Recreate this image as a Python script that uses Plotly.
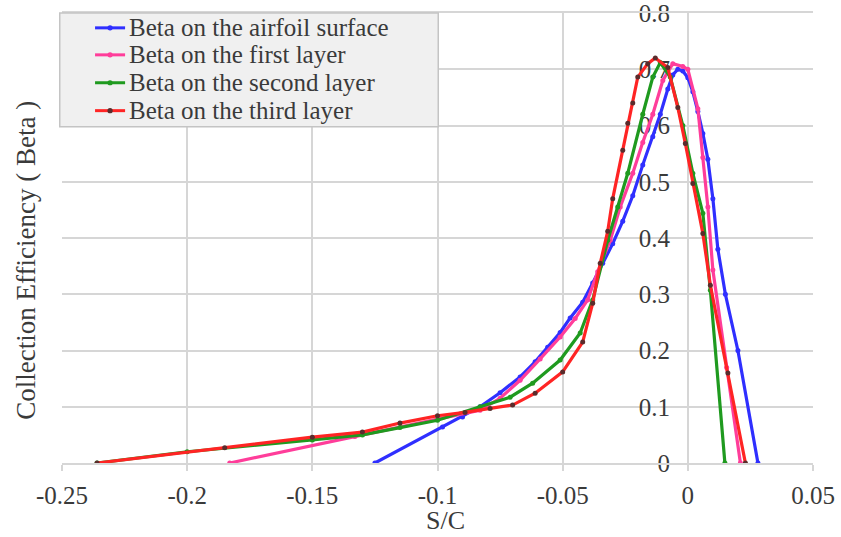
import plotly.graph_objects as go

# ---- data ----
blue_x = [-0.125, -0.098, -0.090, -0.083, -0.075, -0.067, -0.061, -0.056, -0.051, -0.047, -0.042,
          -0.038, -0.034, -0.030, -0.026, -0.022, -0.018, -0.014, -0.011, -0.008, -0.006, -0.004,
          -0.002, 0.000, 0.002, 0.004, 0.006, 0.008, 0.010, 0.012, 0.015, 0.020, 0.028]
blue_y = [0.000, 0.064, 0.082, 0.100, 0.125, 0.153, 0.180, 0.206, 0.232, 0.258, 0.286,
          0.320, 0.355, 0.390, 0.430, 0.475, 0.530, 0.580, 0.620, 0.665, 0.690, 0.700,
          0.697, 0.685, 0.660, 0.625, 0.586, 0.540, 0.470, 0.380, 0.300, 0.200, 0.000]

pink_x = [-0.183, -0.133, -0.083, -0.075, -0.067, -0.059, -0.051, -0.045, -0.040, -0.036, -0.031,
          -0.027, -0.022, -0.018, -0.014, -0.010, -0.006, -0.002, 0.000, 0.004, 0.006, 0.008,
          0.010, 0.0155, 0.021]
pink_y = [0.000, 0.047, 0.094, 0.115, 0.147, 0.185, 0.224, 0.257, 0.290, 0.340, 0.396,
          0.455, 0.515, 0.570, 0.620, 0.680, 0.710, 0.705, 0.700, 0.630, 0.543, 0.455,
          0.343, 0.170, 0.000]

green_x = [-0.236, -0.200, -0.150, -0.130, -0.115, -0.100, -0.083, -0.071, -0.062, -0.051, -0.043,
           -0.038, -0.032, -0.028, -0.024, -0.018, -0.014, -0.011, -0.007, -0.002, 0.002, 0.006,
           0.009, 0.0148]
green_y = [0.000, 0.020, 0.041, 0.050, 0.063, 0.076, 0.100, 0.117, 0.142, 0.183, 0.231,
           0.290, 0.396, 0.455, 0.515, 0.620, 0.686, 0.712, 0.686, 0.600, 0.515, 0.444,
           0.307, 0.000]

red_x = [-0.236, -0.185, -0.150, -0.130, -0.115, -0.100, -0.089, -0.079, -0.070, -0.061, -0.050,
         -0.042, -0.038, -0.035, -0.032, -0.030, -0.026, -0.024, -0.022, -0.020, -0.016, -0.013,
         -0.008, -0.004, -0.001, 0.002, 0.006, 0.009, 0.016, 0.023]
red_y = [0.000, 0.027, 0.046, 0.055, 0.071, 0.084, 0.090, 0.097, 0.103, 0.124, 0.162,
         0.215, 0.284, 0.355, 0.412, 0.470, 0.556, 0.604, 0.640, 0.686, 0.710, 0.720,
         0.703, 0.632, 0.568, 0.497, 0.408, 0.316, 0.160, 0.000]

series_names = ["Beta on the airfoil surface", "Beta on the first layer",
                "Beta on the second layer", "Beta on the third layer"]

x_tickvals = [-0.25, -0.2, -0.15, -0.1, -0.05, 0, 0.05]
x_ticktext = ["-0.25", "-0.2", "-0.15", "-0.1", "-0.05", "0", "0.05"]
y_tickvals = [0, 0.1, 0.2, 0.3, 0.4, 0.5, 0.6, 0.7, 0.8]
y_ticktext = ["0", "0.1", "0.2", "0.3", "0.4", "0.5", "0.6", "0.7", "0.8"]

FONT = "Liberation Serif"
TXT = "#3a3a3a"
GRID = "#d6d6d6"

line_colors = ["#2f2fff", "#ff3d9a", "#1f9a1f", "#ff2424"]
marker_colors = ["#2f2fff", "#ff3d9a", "#1f9a1f", "#5a2c2c"]
series = [(blue_x, blue_y), (pink_x, pink_y), (green_x, green_y), (red_x, red_y)]

fig = go.Figure()
for (xs, ys), name, lc, mc in zip(series, series_names, line_colors, marker_colors):
    fig.add_trace(go.Scatter(
        x=xs, y=ys, name=name, mode="lines+markers", showlegend=False,
        line=dict(color=lc, width=3.2),
        marker=dict(color=mc, size=5, line=dict(width=0)),
    ))

# ---- legend box drawn in paper coordinates (matches the boxed legend of the original) ----
shapes = [dict(type="rect", xref="paper", yref="paper", x0=-0.003, x1=0.501, y0=0.747, y1=1.0,
               fillcolor="#f0f0f0", line=dict(color="#c4c4c4", width=1.5), layer="above")]
annotations = []
row_y = [0.967, 0.907, 0.845, 0.783]
kx0, kx1, kxm, tx = 0.044, 0.084, 0.064, 0.087
for name, lc, mc, ry in zip(series_names, line_colors, marker_colors, row_y):
    shapes.append(dict(type="line", xref="paper", yref="paper", x0=kx0, x1=kx1, y0=ry, y1=ry,
                       line=dict(color=lc, width=3), layer="above"))
    shapes.append(dict(type="circle", xref="paper", yref="paper",
                       x0=kxm - 0.0035, x1=kxm + 0.0035, y0=ry - 0.0058, y1=ry + 0.0058,
                       fillcolor=mc, line=dict(width=0), layer="above"))
    annotations.append(dict(text=name, xref="paper", yref="paper", x=tx, y=ry,
                            xanchor="left", yanchor="middle", showarrow=False,
                            font=dict(family=FONT, size=25, color=TXT)))

annotations += [
    dict(text="Collection Efficiency ( Beta )", xref="paper", yref="paper",
         x=-0.049, y=0.45, textangle=-90, showarrow=False,
         xanchor="center", yanchor="middle",
         font=dict(family=FONT, size=27, color=TXT)),
    dict(text="S/C", xref="paper", yref="paper", x=0.51, y=-0.127,
         showarrow=False, xanchor="center", yanchor="middle",
         font=dict(family=FONT, size=26, color=TXT)),
]

fig.update_layout(
    width=841, height=537,
    margin=dict(l=62, r=28, t=13, b=74, autoexpand=False),
    paper_bgcolor="white", plot_bgcolor="white",
    font=dict(family=FONT, size=25, color=TXT),
    showlegend=False,
    xaxis=dict(
        range=[-0.25, 0.05], tickmode="array", tickvals=x_tickvals, ticktext=x_ticktext,
        showgrid=True, gridcolor=GRID, gridwidth=2, zeroline=False,
        showline=True, linecolor=GRID, linewidth=2, mirror=True,
        ticks="outside", ticklen=6, tickwidth=2, tickcolor=GRID, ticklabelstandoff=3,
        automargin=False, ticklabeloverflow="allow",
        tickfont=dict(family=FONT, size=25, color=TXT),
    ),
    yaxis=dict(
        range=[0, 0.8], tickmode="array", tickvals=y_tickvals, ticktext=y_ticktext,
        anchor="free", position=0.8336, automargin=False, ticklabeloverflow="allow",
        showgrid=True, gridcolor=GRID, gridwidth=2, zeroline=False,
        showline=False, ticks="", ticklabelstandoff=18, layer="below traces",
        tickfont=dict(family=FONT, size=25, color=TXT),
    ),
    shapes=shapes,
    annotations=annotations,
)

fig.write_html("out.html")
